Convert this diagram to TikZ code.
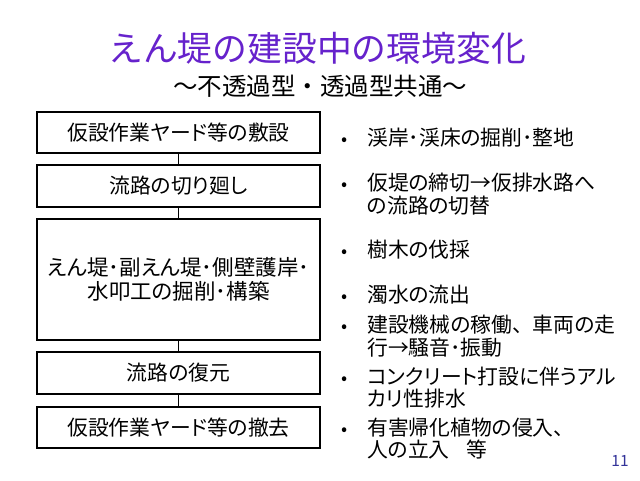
\documentclass[tikz,border=0pt]{standalone}
\usepackage{fontspec}
\setmainfont[RawFeature=+palt]{Noto Sans CJK JP}
\newfontfamily\plainjp{Noto Sans CJK JP}
\definecolor{titlepurple}{RGB}{102,34,204}
\definecolor{pagenum}{RGB}{51,51,153}
\begin{document}
\begin{tikzpicture}[x=1pt,y=-1pt,
  flowbox/.style={draw=black, line width=1.4pt, minimum width=283pt, inner sep=0pt,
    font=\fontsize{20.8}{23}\selectfont, text height=18.3pt, text depth=2.5pt},
  bigbox/.style={draw=black, line width=1.4pt, minimum width=283pt, inner sep=0pt,
    font=\fontsize{21.5}{24}\selectfont, align=center},
  link/.style={draw=black, line width=1.4pt},
  itemline/.style={anchor=west, inner sep=0pt, font=\fontsize{20.8}{23}\selectfont,
    text height=18.3pt, text depth=2.5pt},
  bulletmark/.style={anchor=center, inner sep=0pt, font=\fontsize{18}{21}\selectfont,
    text height=18.3pt, text depth=2.5pt}]
\useasboundingbox (0,0) rectangle (640,480);
\fill[white] (0,0) rectangle (640,480);

% title
\node[inner sep=0pt, anchor=center, text=titlepurple, font=\plainjp\fontsize{34.8}{36}\selectfont,
  text height=30.6pt, text depth=4.2pt] (title) at (317,48) {えん堤の建設中の環境変化};
\node[inner sep=0pt, anchor=center, font=\plainjp\fontsize{24.5}{26}\selectfont,
  text height=21.6pt, text depth=2.9pt] (subtitle) at (320,86) {～不透過型・透過型共通～};

% flow boxes
\node[flowbox, minimum height=41pt] (b1) at (178.5,132.5) {仮設作業ヤード等の敷設};
\node[flowbox, minimum height=42pt] (b2) at (178.5,186) {流路の切り廻し};
\node[bigbox, minimum height=121pt] (b3) at (178.5,279.5) {えん堤･副えん堤･側壁護岸･\\水叩工の掘削･構築};
\node[flowbox, minimum height=42pt] (b4) at (178.5,373) {流路の復元};
\node[flowbox, minimum height=41pt] (b5) at (178.5,427.5) {仮設作業ヤード等の撤去};

\draw[link] (b1.south) -- (b2.north);
\draw[link] (b2.south) -- (b3.north);
\draw[link] (b3.south) -- (b4.north);
\draw[link] (b4.south) -- (b5.north);

% bullet list
\node[bulletmark] (m1) at (345,138) {•};
\node[itemline] (t1) at (367,138) {渓岸･渓床の掘削･整地};
\node[bulletmark] (m2) at (345,183) {•};
\node[itemline] (t2a) at (367,183) {仮堤の締切→仮排水路へ};
\node[itemline] (t2b) at (367,206) {の流路の切替};
\node[bulletmark] (m3) at (345,250) {•};
\node[itemline] (t3) at (367,250) {樹木の伐採};
\node[bulletmark] (m4) at (345,295) {•};
\node[itemline] (t4) at (367,295) {濁水の流出};
\node[bulletmark] (m5) at (345,325) {•};
\node[itemline] (t5a) at (367,325) {建設機械の稼働{\plainjp 、}車両の走};
\node[itemline] (t5b) at (367,348) {行→騒音･振動};
\node[bulletmark] (m6) at (345,377) {•};
\node[itemline] (t6a) at (367,377) {コンクリート打設に伴うアル};
\node[itemline] (t6b) at (367,399) {カリ性排水};
\node[bulletmark] (m7) at (345,428) {•};
\node[itemline] (t7a) at (367,428) {有害帰化植物の侵入、};
\node[itemline] (t7b) at (367,450) {人の立入\hspace{0.8em}等};

% page number
\node[inner sep=0pt, text=pagenum, font=\fontsize{15.5}{17}\selectfont] (pg) at (620,461) {11};
\end{tikzpicture}
\end{document}
